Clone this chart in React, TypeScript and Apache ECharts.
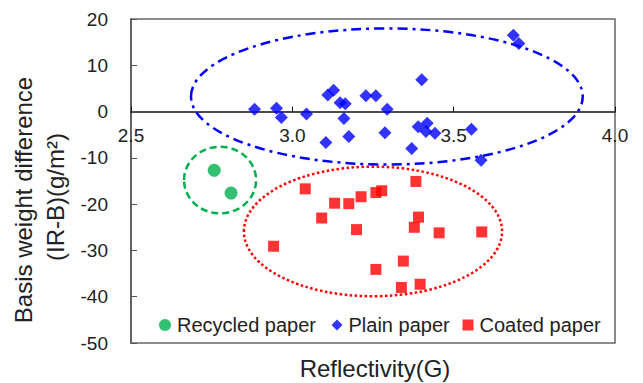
import React, { useEffect, useRef } from "react";
import * as echarts from "echarts";

const recycled: [number, number][] = [
  [2.758, -12.7],
  [2.81, -17.6],
];

const plain: [number, number][] = [
  [2.883, 0.5],
  [2.951, 0.7],
  [2.966, -1.3],
  [3.044, -0.5],
  [3.11, 3.6],
  [3.128, 4.6],
  [3.148, 1.9],
  [3.164, 1.7],
  [3.16, -1.5],
  [3.175, -5.4],
  [3.104, -6.7],
  [3.228, 3.4],
  [3.259, 3.4],
  [3.294, 0.5],
  [3.287, -4.6],
  [3.401, 6.9],
  [3.39, -3.3],
  [3.418, -2.5],
  [3.414, -4.3],
  [3.442, -4.7],
  [3.37, -8.0],
  [3.555, -3.8],
  [3.585, -10.5],
  [3.685, 16.5],
  [3.702, 14.7],
];

const coated: [number, number][] = [
  [3.04, -16.7],
  [3.091, -23.0],
  [3.131, -19.8],
  [3.175, -19.9],
  [3.213, -18.4],
  [3.199, -25.5],
  [2.942, -29.1],
  [3.259, -17.5],
  [3.277, -17.1],
  [3.259, -34.1],
  [3.383, -15.1],
  [3.391, -22.8],
  [3.378, -25.0],
  [3.455, -26.2],
  [3.587, -26.0],
  [3.344, -32.3],
  [3.338, -38.0],
  [3.396, -37.3],
];

// group outlines: [centerX, centerY, radiusX, radiusY] in data units
const recycledOutline = [[2.776, -14.8, 0.1116, 7.2]];
const plainOutline = [[3.293, 3.26, 0.607, 14.7]];
const coatedOutline = [[3.25, -25.9, 0.4, 14.0]];

const xTicks = { min: 2.5, max: 4.0, interval: 0.5 };
const yTicks = { min: -50, max: 20, interval: 10 };

const FONT = "'Liberation Sans', Arial, sans-serif";

function outlineSeries(data: number[][], color: string, dash: number[]) {
  return {
    type: "custom",
    silent: true,
    data,
    z: 1,
    renderItem: (_p: any, api: any) => {
      const c = api.coord([api.value(0), api.value(1)]);
      const s = api.size([api.value(2), api.value(3)]);
      return {
        type: "ellipse",
        shape: { cx: c[0], cy: c[1], rx: s[0], ry: s[1] },
        style: { fill: "none", stroke: color, lineWidth: 2.5, lineDash: dash },
      };
    },
  };
}

export default function App() {
  const ref = useRef<HTMLDivElement>(null);
  useEffect(() => {
    document.body.style.margin = "0";
    const chart = echarts.init(ref.current!, undefined, { renderer: "svg" });
    const legendBase = {
      orient: "horizontal",
      top: 315,
      padding: 0,
      itemGap: 0,
      textStyle: { fontFamily: FONT, fontSize: 20, color: "#222", padding: [0, 0, 0, 1] },
    };
    chart.setOption({
      animation: false,
      backgroundColor: "#fff",
      grid: {
        left: 131,
        right: 28,
        top: 19,
        bottom: 40,
        show: true,
        borderColor: "#666",
        borderWidth: 1.5,
        backgroundColor: "transparent",
      },
      xAxis: {
        type: "value",
        ...xTicks,
        axisLine: { onZero: false, lineStyle: { color: "#111", width: 1.5 } },
        axisTick: { inside: true, length: 5, lineStyle: { color: "#111" } },
        axisLabel: {
          margin: 14,
          fontFamily: FONT,
          fontSize: 19,
          color: "#222",
          formatter: (v: number) => v.toFixed(1),
        },
        splitLine: { show: false },
      },
      yAxis: {
        type: "value",
        ...yTicks,
        axisLine: { show: true, onZero: false, lineStyle: { color: "#555", width: 1.5 } },
        axisTick: { show: true, inside: true, length: 6, lineStyle: { color: "#555" } },
        axisLabel: { margin: 23, fontFamily: FONT, fontSize: 19, color: "#222" },
        splitLine: { show: false },
      },
      legend: [
        { ...legendBase, left: 159, itemWidth: 12, itemHeight: 12, data: [{ name: "Recycled paper", icon: "circle" }] },
        { ...legendBase, left: 331.5, itemWidth: 11, itemHeight: 11, data: [{ name: "Plain paper", icon: "diamond" }] },
        { ...legendBase, left: 462.5, itemWidth: 11, itemHeight: 11, data: [{ name: "Coated paper", icon: "rect" }] },
      ],
      graphic: [
        {
          type: "text",
          x: 23,
          y: 200,
          rotation: Math.PI / 2,
          style: {
            text: "Basis weight difference",
            font: `24px ${FONT}`,
            fill: "#222",
            align: "center",
            verticalAlign: "middle",
          },
        },
        {
          type: "text",
          x: 55,
          y: 197,
          rotation: Math.PI / 2,
          style: {
            text: "(IR-B)(g/m²)",
            font: `24px ${FONT}`,
            fill: "#222",
            align: "center",
            verticalAlign: "middle",
          },
        },
        {
          type: "text",
          x: 375,
          y: 368,
          style: {
            text: "Reflectivity(G)",
            font: `24px ${FONT}`,
            fill: "#222",
            align: "center",
            verticalAlign: "middle",
          },
        },
      ],
      series: [
        outlineSeries(recycledOutline, "#00b050", [7, 4]),
        outlineSeries(plainOutline, "#0000ff", [10, 5, 3, 5]),
        outlineSeries(coatedOutline, "#ff0000", [2.5, 2.5]),
        {
          name: "Recycled paper",
          type: "scatter",
          symbol: "circle",
          symbolSize: 13,
          itemStyle: { color: "#00b050" },
          data: recycled,
          z: 3,
        },
        {
          name: "Plain paper",
          type: "scatter",
          symbol: "diamond",
          symbolSize: 13,
          itemStyle: { color: "#0000ff" },
          data: plain,
          z: 3,
        },
        {
          name: "Coated paper",
          type: "scatter",
          symbol: "rect",
          symbolSize: 11,
          itemStyle: { color: "#ff0000" },
          data: coated,
          z: 3,
        },
      ],
    });
    // place the x axis (line, ticks, labels) at y = 0
    const yZero = chart.convertToPixel({ yAxisIndex: 0 }, 0) as number;
    const yBottom = chart.convertToPixel({ yAxisIndex: 0 }, yTicks.min) as number;
    chart.setOption({ xAxis: { offset: -(yBottom - yZero) } });
    return () => chart.dispose();
  }, []);
  return <div ref={ref} style={{ width: 643, height: 383 }} />;
}
